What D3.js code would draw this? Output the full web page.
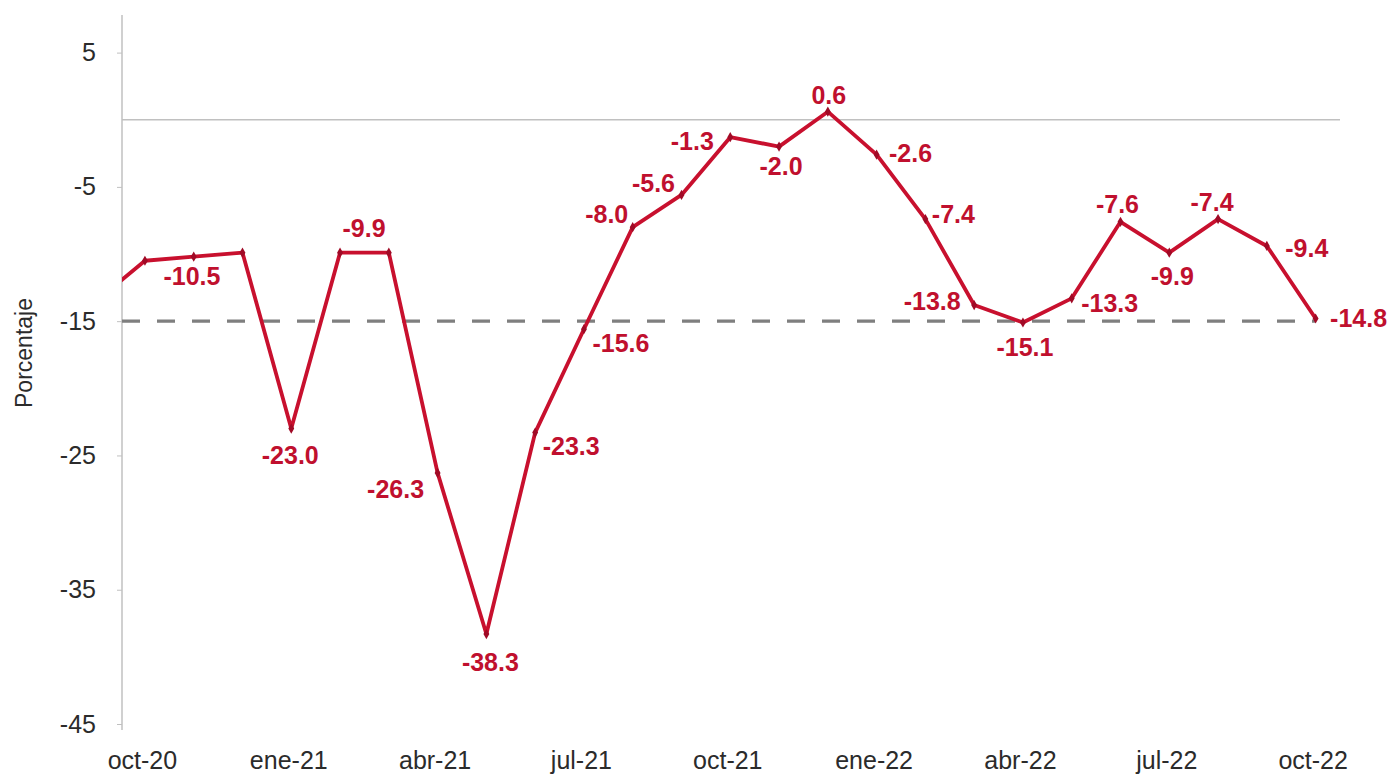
<!DOCTYPE html>
<html>
<head>
<meta charset="utf-8">
<script src="https://cdn.jsdelivr.net/npm/d3@7"></script>
<style>
  html, body { margin: 0; padding: 0; background: #ffffff; }
  svg { display: block; }
</style>
</head>
<body>
<svg id="chart" width="1393" height="778"></svg>
<script>
// ---- Data ----
const months = ["sep-20","oct-20","nov-20","dic-20","ene-21","feb-21","mar-21","abr-21","may-21","jun-21","jul-21","ago-21","sep-21",
                "oct-21","nov-21","dic-21","ene-22","feb-22","mar-22","abr-22","may-22","jun-22","jul-22","ago-22","sep-22","oct-22"];
const values = [-13.5,-10.5,-10.2,-9.9,-23.0,-9.9,-9.9,-26.3,-38.3,-23.3,-15.6,-8.0,-5.6,
                -1.3,-2.0,0.6,-2.6,-7.4,-13.8,-15.1,-13.3,-7.6,-9.9,-7.4,-9.4,-14.8];
const labelShown = [false,true,false,false,true,true,false,true,true,true,true,true,true,
                    true,true,true,true,true,true,true,true,true,true,true,true,true];
const referenceLevel = -15;
const xTickLabels = ["oct-20","ene-21","abr-21","jul-21","oct-21","ene-22","abr-22","jul-22","oct-22"];
const yTickValues = [5,-5,-15,-25,-35,-45];
const yTitle = "Porcentaje";

// label placement offsets relative to each point (layout only)
const labelOffsets = [[0,0],[47,15],[0,0],[0,0],[-1,26],[24,-25],[0,0],[-42,16],[4,28],[36,13],[37,14],[-26,-13],[-28,-12],
                      [-38,4],[2,19],[1,-17],[34,-2],[28,-5],[-42,-4],[2,24],[38,5],[-3,-18],[3,23],[-6,-17],[40,2],[43,0]];

// ---- Layout ----
const svg = d3.select("#chart");
const plotLeft = 122, plotRight = 1340, plotTop = 15, plotBottom = 724;
const x = d3.scaleLinear().domain([0.53, 25.5]).range([plotLeft, plotRight]);
const y = d3.scaleLinear().domain([-45, 7.8]).range([plotBottom, plotTop]);

const lineColor = "#C8102E";
const labelColor = "#C0102E";
const textColor = "#2b2b2b";
const axisColor = "#c0c0c0";
const font = "'Liberation Sans', Arial, sans-serif";

svg.append("defs").append("clipPath").attr("id","plotclip")
  .append("rect").attr("x", plotLeft).attr("y", 0).attr("width", plotRight - plotLeft).attr("height", 778);

// zero axis line
svg.append("line")
  .attr("x1", plotLeft).attr("x2", plotRight)
  .attr("y1", y(0)).attr("y2", y(0))
  .attr("stroke", axisColor).attr("stroke-width", 1.5);

// y axis
const yAxis = d3.axisLeft(y).tickValues(yTickValues).tickSize(5).tickPadding(21);
const gy = svg.append("g").attr("transform", `translate(${plotLeft},0)`).call(yAxis);
gy.select(".domain").remove();
gy.append("line").attr("x1",0).attr("x2",0).attr("y1", y.range()[1]).attr("y2", y(-45) + 6)
  .attr("stroke", axisColor).attr("stroke-width",1.5);
gy.selectAll(".tick line").attr("stroke", axisColor);
gy.selectAll(".tick text").attr("fill", textColor).style("font-family", font).style("font-size","25px")
  .text(d => d3.format("d")(d).replace("−","-"));

// x tick labels (every quarter)
const xTickIdx = xTickLabels.map(l => months.indexOf(l));
const xAxis = d3.axisBottom(x).tickValues(xTickIdx).tickSize(0).tickPadding(0)
  .tickFormat(i => months[i]);
const gx = svg.append("g").attr("transform", `translate(-3,${plotBottom + 27})`).call(xAxis);
gx.select(".domain").remove();
gx.selectAll(".tick text").attr("fill", textColor).style("font-family", font).style("font-size","25px");

// y title
svg.append("text")
  .attr("transform", `translate(32,${353}) rotate(-90)`)
  .attr("text-anchor","middle")
  .attr("fill", textColor)
  .style("font-family", font).style("font-size","23px")
  .text(yTitle);

const plot = svg.append("g").attr("clip-path","url(#plotclip)");

// reference dashed line at -15 (from the axis to the last observation)
const refLine = d3.line().x(d => x(d)).y(() => y(referenceLevel));
plot.append("path")
  .datum([x.domain()[0], months.length - 1])
  .attr("d", refLine)
  .attr("fill","none")
  .attr("stroke","#7f7f7f")
  .attr("stroke-width",3.2)
  .attr("stroke-dasharray","18,17");

// main series
const line = d3.line().x((d,i) => x(i)).y(d => y(d));
plot.append("path")
  .datum(values)
  .attr("d", line)
  .attr("fill","none")
  .attr("stroke", lineColor)
  .attr("stroke-width", 3.8)
  .attr("stroke-linejoin","round");

plot.selectAll("path.marker")
  .data(values)
  .join("path")
  .attr("class","marker")
  .attr("transform", (d,i) => `translate(${x(i)},${y(d)})`)
  .attr("d", d3.symbol(d3.symbolDiamond, 30))
  .attr("fill", "#A00A26");

// data labels
svg.selectAll("text.dlabel")
  .data(values.map((v,i) => ({v, i})).filter(d => labelShown[d.i]))
  .join("text")
  .attr("class","dlabel")
  .attr("x", d => x(d.i) + labelOffsets[d.i][0])
  .attr("y", d => y(d.v) + labelOffsets[d.i][1])
  .attr("text-anchor","middle")
  .attr("dominant-baseline","central")
  .attr("fill", labelColor)
  .style("font-family", font).style("font-size","25px").style("font-weight","bold")
  .text(d => d3.format(".1f")(d.v).replace("−","-"));
</script>
</body>
</html>
